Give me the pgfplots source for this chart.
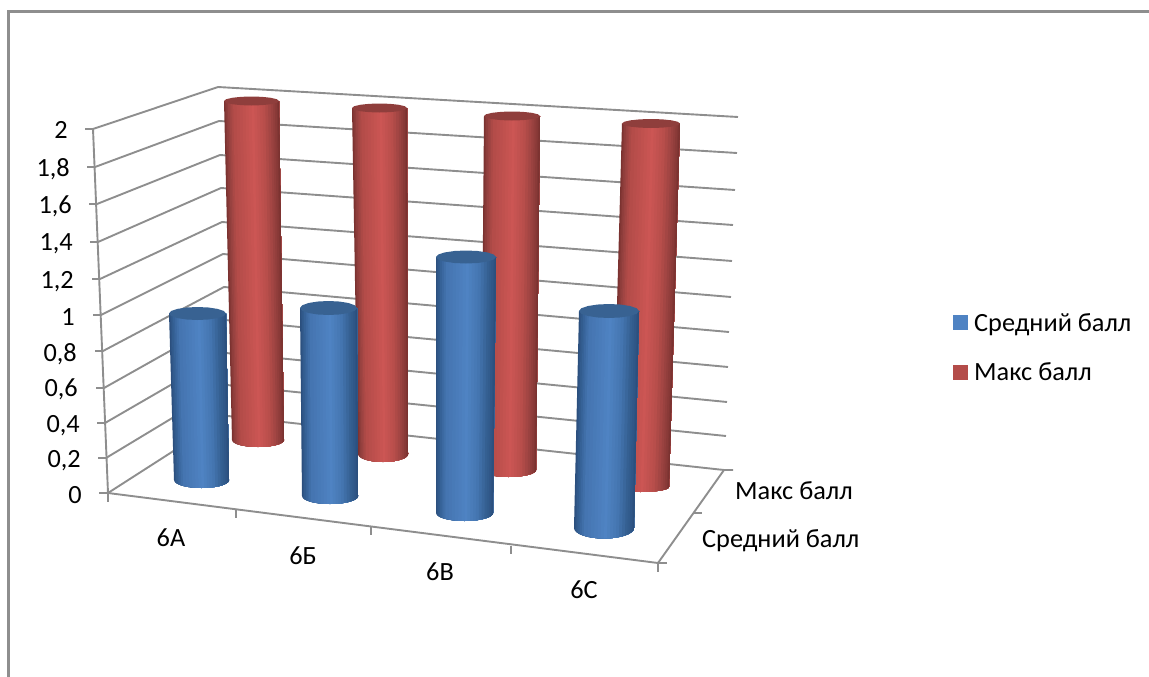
\documentclass[border=0pt]{standalone}
\usepackage{pgfplots}
\pgfplotsset{compat=1.18}
\usepackage{pgfplotstable}
\usepackage{fontspec}
\setmainfont{Carlito}
\definecolor{gridc}{HTML}{8E8E8E}
\definecolor{framec}{HTML}{8E8E8E}
\definecolor{rcap}{HTML}{8F3E3C}
\definecolor{bcap}{HTML}{386292}
\definecolor{rA}{HTML}{7A3230}\definecolor{rB}{HTML}{984240}\definecolor{rC}{HTML}{B44C49}\definecolor{rD}{HTML}{CC5654}\definecolor{rE}{HTML}{B84E4B}\definecolor{rF}{HTML}{9A4240}
\definecolor{bA}{HTML}{2B4F7D}\definecolor{bB}{HTML}{366297}\definecolor{bC}{HTML}{4575B1}\definecolor{bD}{HTML}{4F83C3}\definecolor{bE}{HTML}{4475B0}\definecolor{bF}{HTML}{356092}
\pgfplotstableread{
u h
-1 0
-1 1
-0.981 1
-0.924 1
-0.831 1
-0.707 1
-0.556 1
-0.383 1
-0.195 1
0 1
0.195 1
0.383 1
0.556 1
0.707 1
0.831 1
0.924 1
0.981 1
1 1
1 0
}\bodyoutline
\pgfplotstableread{
u w
1 0
0.924 0.383
0.707 0.707
0.383 0.924
0 1
-0.383 0.924
-0.707 0.707
-0.924 0.383
-1 0
-0.924 -0.383
-0.707 -0.707
-0.383 -0.924
0 -1
0.383 -0.924
0.707 -0.707
0.924 -0.383
}\capoutline
% xl-top xr-top y-top ry-top xl-bottom xr-bottom y-bottom ry-bottom series
\newcommand\cyl[9]{%
  \def\s##1##2{%
    \addplot[forget plot,draw=none,fill=##2] table[
      x expr={((#1+#2)/2)*(1-\thisrow{h})+((#5+#6)/2)*\thisrow{h}+max(\thisrow{u},##1)*(((#2-#1)/2)*(1-\thisrow{h})+((#6-#5)/2)*\thisrow{h})},
      y expr={#3*(1-\thisrow{h})+#7*\thisrow{h}+\thisrow{h}*#8*sqrt(max(0,1-max(\thisrow{u},##1)*max(\thisrow{u},##1)))}] {\bodyoutline};}%
  \s{-1}{#9A}\s{-0.96}{#9A!67!#9B}\s{-0.92}{#9A!33!#9B}\s{-0.86}{#9B}\s{-0.8}{#9B!67!#9C}\s{-0.74}{#9B!33!#9C}%
  \s{-0.67}{#9C}\s{-0.55}{#9C!83!#9D}\s{-0.44}{#9C!67!#9D}\s{-0.33}{#9C!50!#9D}\s{-0.22}{#9C!33!#9D}\s{-0.11}{#9C!17!#9D}%
  \s{0}{#9D}\s{0.1}{#9D!75!#9E}\s{0.2}{#9D!50!#9E}\s{0.3}{#9D!25!#9E}\s{0.4}{#9E}\s{0.5}{#9E!67!#9F}\s{0.6}{#9E!33!#9F}%
  \s{0.7}{#9F}\s{0.78}{#9F!75!#9A}\s{0.85}{#9F!50!#9A}\s{0.92}{#9F!25!#9A}\s{0.96}{#9A}%
  \addplot[forget plot,draw=none,fill=#9cap] table[
    x expr={(#1+#2)/2+\thisrow{u}*(#2-#1)/2},
    y expr={#3+\thisrow{w}*#4}] {\capoutline};
}
\newcommand\lab[3]{\node[font=\fontsize{26.3}{28}\selectfont,inner sep=0pt,anchor=#1] at (axis cs:#2) {#3};}
\begin{document}
\begin{tikzpicture}
\useasboundingbox (0,0) rectangle (1149pt,677pt);
\begin{axis}[at={(0,0)},anchor=south west,scale only axis,width=1149pt,height=677pt,
  xmin=0,xmax=1149,ymin=0,ymax=677,y dir=reverse,hide axis,clip=false,
  legend style={at={(axis cs:953,347.5)},anchor=west,draw=none,fill=none,inner sep=0pt,
    font=\fontsize{26.3}{28}\selectfont,row sep=30pt,
    nodes={inner sep=0pt,anchor=west},/tikz/column 1/.style={column sep=6pt}},
  legend cell align=left]
% chart frame
\addplot[forget plot,framec,line width=2.4pt] coordinates {(8.5,677)(8.5,11.5)(1149,11.5)};
% walls: front axis - back corner - right end, for values 2, 1.8, ... 0
\addplot[forget plot,gridc,line width=1.9pt] coordinates {(85,129)(93,129)(218,87)(738,117)};
\addplot[forget plot,gridc,line width=1.9pt] coordinates {(87,167)(95,167)(219,121)(737,153)};
\addplot[forget plot,gridc,line width=1.9pt] coordinates {(89,204)(97,204)(220,155)(735,190)};
\addplot[forget plot,gridc,line width=1.9pt] coordinates {(90,242)(98,242)(221,188)(733,225)};
\addplot[forget plot,gridc,line width=1.9pt] coordinates {(92,279)(100,279)(222,222)(732,261)};
\addplot[forget plot,gridc,line width=1.9pt] coordinates {(93,315)(101,315)(223,254)(731,297)};
\addplot[forget plot,gridc,line width=1.9pt] coordinates {(95,351)(103,351)(224,287)(729,332)};
\addplot[forget plot,gridc,line width=1.9pt] coordinates {(96,388)(104,388)(225,320)(728,367)};
\addplot[forget plot,gridc,line width=1.9pt] coordinates {(97,423)(105,423)(226,353)(727,402)};
\addplot[forget plot,gridc,line width=1.9pt] coordinates {(98,458)(106,458)(227,385)(726,436)};
\addplot[forget plot,gridc,line width=1.9pt] coordinates {(99,493)(108,493)(228,416)(724,470)(733,470)};
% axes of the floor and ticks
\addplot[forget plot,gridc,line width=1.9pt] coordinates {(93,129)(108,493)(658,563)(724,470)};
\addplot[forget plot,gridc,line width=1.9pt] coordinates {(108,493)(108,502)};
\addplot[forget plot,gridc,line width=1.9pt] coordinates {(236,509)(236,518)};
\addplot[forget plot,gridc,line width=1.9pt] coordinates {(371,527)(371,535)};
\addplot[forget plot,gridc,line width=1.9pt] coordinates {(511,546)(511,554)};
\addplot[forget plot,gridc,line width=1.9pt] coordinates {(658,563)(658,572)};
\addplot[forget plot,gridc,line width=1.9pt] coordinates {(658,563)(667,563)};
\addplot[forget plot,gridc,line width=1.9pt] coordinates {(694,513)(702,513)};
% Макс балл
\cyl{224}{279}{101}{4.5}{232}{284}{440}{7}{r}
\cyl{352}{407}{108}{4.5}{358}{408}{454}{8}{r}
\cyl{484}{540}{116}{4.5}{481}{536}{470}{7}{r}
\cyl{622}{680}{123.5}{4.5}{612}{669}{487}{5}{r}
% Средний балл
\cyl{169}{226}{313.5}{6.5}{174}{229}{480}{8}{b}
\cyl{300}{357}{308}{7}{302}{358}{496}{8}{b}
\cyl{436}{496}{257}{6.5}{436}{493}{513}{8}{b}
\cyl{579}{639}{311}{7}{574}{634}{528}{10.5}{b}
% tick labels
\lab{base east}{68,139}{2}
\lab{base east}{70,176}{1,8}
\lab{base east}{72,213}{1,6}
\lab{base east}{73,250}{1,4}
\lab{base east}{74,288}{1,2}
\lab{base east}{75,325}{1}
\lab{base east}{77,361}{0,8}
\lab{base east}{78,396}{0,6}
\lab{base east}{80,432}{0,4}
\lab{base east}{81,467}{0,2}
\lab{base east}{82,503}{0}
\lab{base}{171,546}{6А}
\lab{base}{303,564}{6Б}
\lab{base}{440,580}{6В}
\lab{base}{584,598}{6С}
\lab{base west}{735,499}{Макс балл}
\lab{base west}{702,547}{Средний балл}
\addlegendimage{legend image code/.code={\path[draw=none,fill=bD] (0pt,-7.5pt) rectangle (15pt,7.5pt);}}
\addlegendentry{Средний балл}
\addlegendimage{legend image code/.code={\path[draw=none,fill=rC] (0pt,-7.5pt) rectangle (15pt,7.5pt);}}
\addlegendentry{Макс балл}
\end{axis}
\end{tikzpicture}
\end{document}
